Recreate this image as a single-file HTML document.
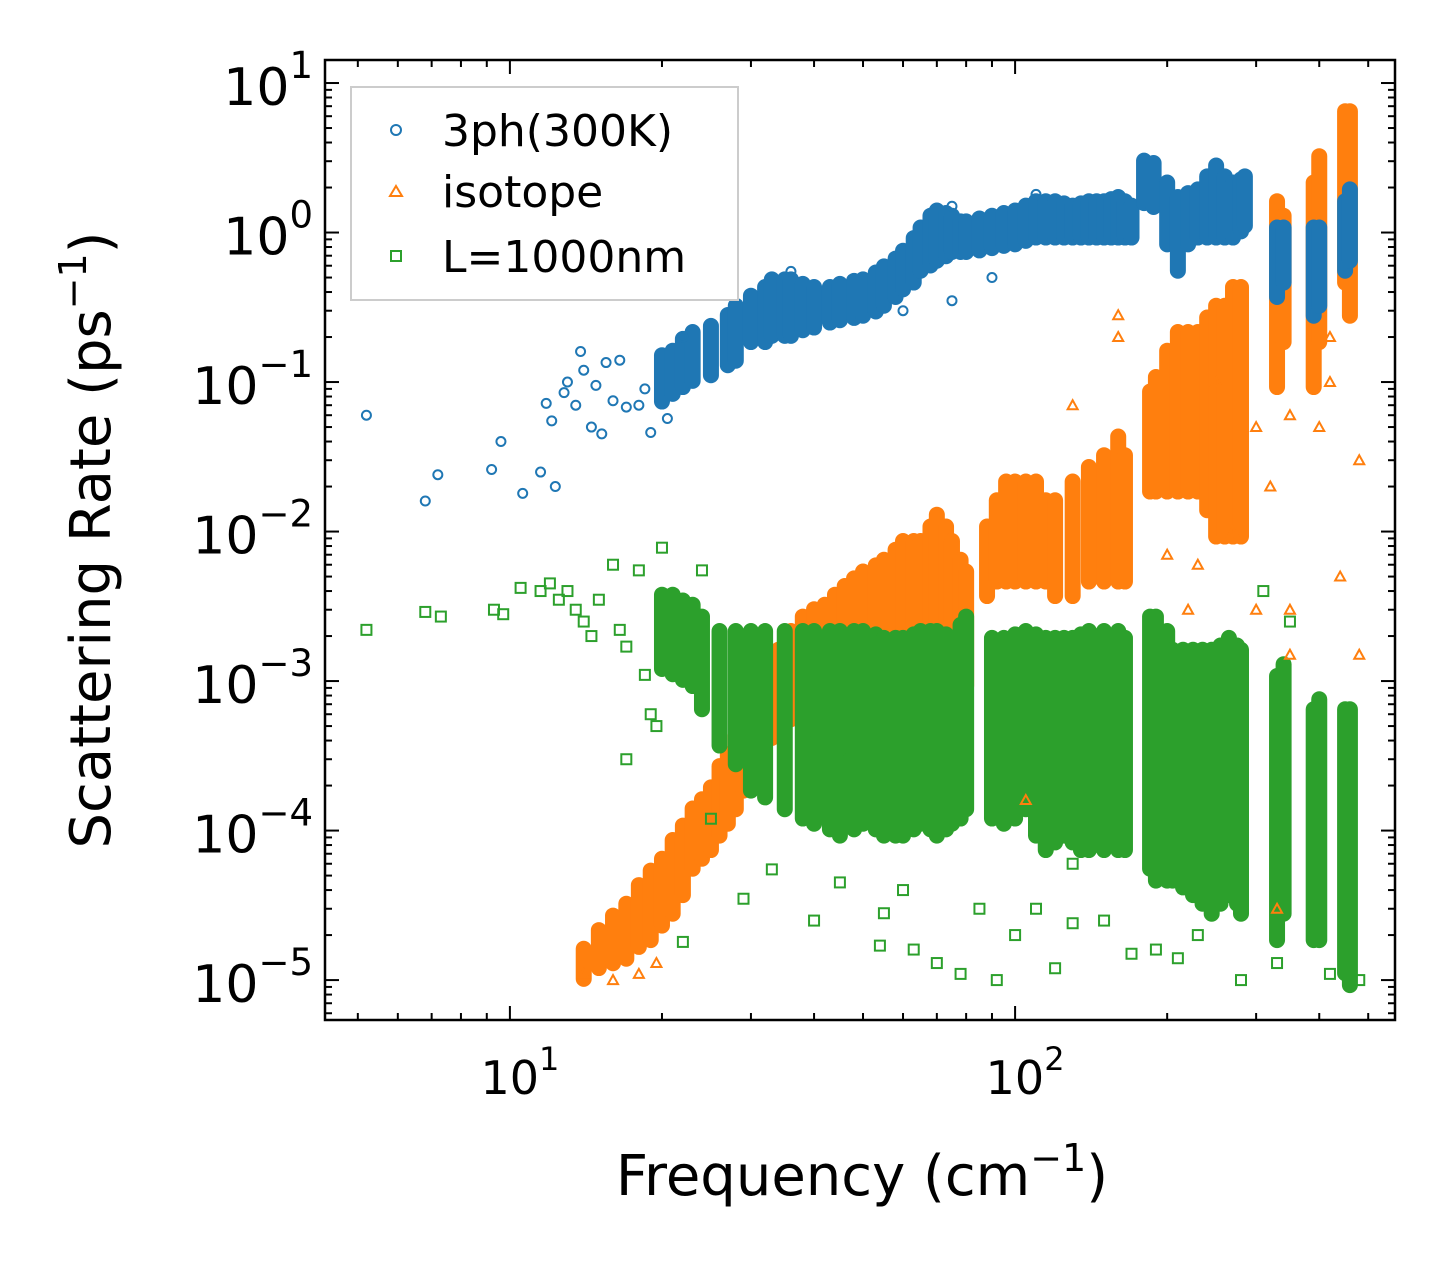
<!DOCTYPE html>
<html><head><meta charset="utf-8"><style>
html,body{margin:0;padding:0;background:#fff}
svg{display:block;font-family:"DejaVu Sans","Liberation Sans",sans-serif}
</style></head><body>
<svg id="chart" width="1455" height="1268" viewBox="0 0 1455 1268" xmlns="http://www.w3.org/2000/svg">
<g id="bands"></g>
<g id="points"></g>
<g id="axes"></g>
<text x="862" y="1195" font-size="56" text-anchor="middle">Frequency (cm<tspan font-size="38" dy="-24">−1</tspan><tspan dy="24">)</tspan></text>
<text transform="translate(110,540) rotate(-90)" font-size="56" text-anchor="middle">Scattering Rate (ps<tspan font-size="38" dy="-24">−1</tspan><tspan dy="24">)</tspan></text>
<g>
<rect x="351" y="87" width="387" height="213" fill="#fff" stroke="#ccc" stroke-width="2"/>
<g><circle cx="396" cy="130" r="5" fill="none" stroke="#1f77b4" stroke-width="2"/><text x="442" y="146" font-size="44">3ph(300K)</text></g>
<g><polygon points="396,186 402,196 390,196" fill="none" stroke="#ff7f0e" stroke-width="2"/><text x="442" y="207" font-size="44">isotope</text></g>
<g><rect x="391" y="251" width="10" height="10" fill="none" stroke="#2ca02c" stroke-width="2"/><text x="442" y="272" font-size="44">L=1000nm</text></g>
</g>
</svg>
<script>
// ---- data ----
const blueBandFreq=[20,21,22,23,25,27,28,30,32,33,35,36,38,40,43,45,48,50,53,55,58,60,63,65,68,70,73,75,78,80,85,90,95,100,105,110,115,120,125,130,135,140,145,150,155,160,165,170,180,188,200,210,220,230,240,250,260,270,280,285,330,340,390,400,450,460];
const blueBandLo=[0.08,0.09,0.1,0.11,0.12,0.14,0.15,0.2,0.2,0.22,0.22,0.22,0.24,0.25,0.27,0.28,0.29,0.3,0.32,0.35,0.4,0.45,0.5,0.6,0.65,0.7,0.75,0.8,0.8,0.8,0.82,0.85,0.88,0.9,0.95,1.0,1.0,1.0,1.0,1.0,1.0,1.0,1.0,1.0,1.0,1.0,1.0,1.0,1.7,1.6,0.9,0.6,0.9,1.0,1.0,1.0,1.0,1.0,1.1,1.2,0.4,0.5,0.3,0.35,0.6,0.7];
const blueBandHi=[0.14,0.15,0.18,0.2,0.22,0.26,0.3,0.35,0.4,0.45,0.45,0.45,0.42,0.4,0.4,0.42,0.44,0.45,0.5,0.55,0.62,0.7,0.85,1.0,1.2,1.3,1.25,1.2,1.1,1.1,1.15,1.2,1.25,1.3,1.4,1.5,1.5,1.5,1.45,1.4,1.45,1.5,1.5,1.5,1.55,1.6,1.5,1.4,2.8,2.7,2.0,1.6,1.7,1.8,2.2,2.6,2.2,2.0,2.1,2.2,1.0,1.0,1.0,1.0,1.5,1.8];
const blueFreq=[5.2,6.8,7.2,9.2,9.6,10.6,11.5,11.8,12.1,12.3,12.8,13,13.5,13.8,14,14.5,14.8,15.2,15.5,16,16.5,17,18,18.5,19,20.5,22,36,60,75,75,90,110];
const blueRate=[0.06,0.016,0.024,0.026,0.04,0.018,0.025,0.072,0.055,0.02,0.085,0.1,0.07,0.16,0.12,0.05,0.095,0.045,0.135,0.075,0.14,0.068,0.07,0.09,0.046,0.057,0.2,0.55,0.3,0.35,1.5,0.5,1.8];

const orangeBandFreq=[14,15,16,17,18,19,20,21,22,23,24,25,26,27,28,29,30,31,33,34,36,38,40,42,44,46,48,50,53,55,58,60,63,65,68,70,73,75,78,80,88,92,96,100,105,110,115,120,130,140,150,160,165,185,190,200,210,220,230,240,250,260,270,280,330,340,390,400,450,460];
const orangeBandLo=[1.1e-5,1.3e-5,1.4e-5,1.5e-5,1.8e-5,2e-5,2.5e-5,3e-5,4e-5,6e-5,7e-5,8e-5,1e-4,1.2e-4,1.5e-4,2e-4,3e-4,4e-4,4.5e-4,5e-4,6e-4,7e-4,7.5e-4,8e-4,9e-4,1e-3,1.1e-3,1.2e-3,1.3e-3,1.5e-3,1.8e-3,2e-3,2e-3,2e-3,2e-3,2e-3,2e-3,2e-3,1.5e-3,1e-3,4e-3,5e-3,5e-3,5e-3,5e-3,5e-3,5e-3,4e-3,4e-3,5e-3,5e-3,5e-3,5e-3,2e-2,2e-2,2e-2,2e-2,2e-2,2e-2,1.5e-2,1e-2,1e-2,1e-2,1e-2,0.1,0.2,0.1,0.2,0.5,0.3];
const orangeBandHi=[1.5e-5,2e-5,2.5e-5,3e-5,4e-5,5e-5,6e-5,8e-5,1e-4,1.3e-4,1.5e-4,1.8e-4,2.5e-4,3e-4,4e-4,5e-4,8e-4,1e-3,1.3e-3,1.5e-3,2e-3,2.5e-3,2.8e-3,3e-3,3.5e-3,4e-3,4.5e-3,5e-3,5.5e-3,6e-3,7e-3,8e-3,8e-3,8e-3,1e-2,1.2e-2,1e-2,8e-3,6e-3,5e-3,1e-2,1.5e-2,2e-2,2e-2,2e-2,2e-2,1.5e-2,1.5e-2,2e-2,2.5e-2,3e-2,4e-2,3e-2,8e-2,1e-1,1.5e-1,2e-1,2e-1,2e-1,2.5e-1,3e-1,3e-1,4e-1,4e-1,1.5,1.2,2,3,6,6];
const orangeFreq=[14,16,18,19.5,105,160,160,200,220,250,270,300,320,350,350,330,400,420,440,480,480,420,350,130,230,300];
const orangeRate=[1.1e-5,1e-5,1.1e-5,1.3e-5,1.6e-4,0.28,0.2,0.007,0.003,0.1,0.01,0.003,0.02,0.003,0.0015,3e-5,0.05,0.1,0.005,0.03,0.0015,0.2,0.06,0.07,0.006,0.05];

const greenBandFreq=[20,21,22,23,24,26,28,30,32,35,38,40,43,45,48,50,53,55,58,60,63,65,68,70,73,75,78,80,90,95,100,105,110,115,120,125,130,135,140,150,160,165,185,190,200,205,215,225,235,245,255,265,275,280,330,340,390,400,450,460];
const greenBandLo=[1.3e-3,1.2e-3,1.1e-3,1e-3,7e-4,4e-4,3e-4,2e-4,1.8e-4,1.5e-4,1.3e-4,1.2e-4,1.1e-4,1e-4,1.1e-4,1.2e-4,1.1e-4,1e-4,1e-4,1e-4,1.1e-4,1.2e-4,1.1e-4,1e-4,1.1e-4,1.2e-4,1.3e-4,1.5e-4,1.3e-4,1.2e-4,1.3e-4,1.5e-4,1e-4,8e-5,9e-5,1e-4,9e-5,8e-5,8e-5,8e-5,8e-5,8e-5,6e-5,5e-5,5e-5,5e-5,4.5e-5,4e-5,3.5e-5,3e-5,3.5e-5,4e-5,3.5e-5,3e-5,2e-5,3e-5,2e-5,2e-5,1.2e-5,1e-5];
const greenBandHi=[3.5e-3,3.5e-3,3.2e-3,3e-3,2.5e-3,2e-3,2e-3,2e-3,2e-3,2e-3,2e-3,2e-3,2e-3,2e-3,2e-3,2e-3,1.9e-3,1.8e-3,1.8e-3,1.8e-3,1.9e-3,2e-3,2e-3,2e-3,1.9e-3,1.8e-3,2.2e-3,2.5e-3,1.8e-3,1.8e-3,1.9e-3,2e-3,1.9e-3,1.8e-3,1.8e-3,1.8e-3,1.8e-3,1.9e-3,2e-3,2e-3,2e-3,1.8e-3,2.5e-3,2.5e-3,2e-3,1.5e-3,1.5e-3,1.5e-3,1.5e-3,1.5e-3,1.6e-3,1.8e-3,1.6e-3,1.5e-3,1e-3,1.2e-3,6e-4,7e-4,6e-4,6e-4];
const greenFreq=[5.2,6.8,7.3,9.3,9.7,10.5,11.5,12,12.5,13,13.5,14,14.5,15,16,16.5,17,17,18,18.5,19,19.5,20,22,24,25,29,33,40,45,54,55,63,70,78,92,100,120,130,150,190,210,280,330,420,480,40,45,60,85,110,310,350,130,170,230];
const greenRate=[2.2e-3,2.9e-3,2.7e-3,3e-3,2.8e-3,4.2e-3,4e-3,4.5e-3,3.5e-3,4e-3,3e-3,2.5e-3,2e-3,3.5e-3,6e-3,2.2e-3,1.7e-3,3e-4,5.5e-3,1.1e-3,6e-4,5e-4,7.8e-3,1.8e-5,5.5e-3,1.2e-4,3.5e-5,5.5e-5,2.5e-5,4.5e-5,1.7e-5,2.8e-5,1.6e-5,1.3e-5,1.1e-5,1e-5,2e-5,1.2e-5,2.4e-5,2.5e-5,1.6e-5,1.4e-5,1e-5,1.3e-5,1.1e-5,1e-5,4.5e-4,3e-4,4e-5,3e-5,3e-5,4e-3,2.5e-3,6e-5,1.5e-5,2e-5];

const yTickExp=[1,0,-1,-2,-3,-4,-5];
const xTickExp=[1,2];

// ---- scales ----
const L=325,R=1395,T=60,B=1020;
const xMin=0.634,xMax=2.752,yMin=-5.267,yMax=1.154;
function X(v){return L+(Math.log10(v)-xMin)/(xMax-xMin)*(R-L);}
function Y(v){return B-(Math.log10(v)-yMin)/(yMax-yMin)*(B-T);}
const NS="http://www.w3.org/2000/svg";
function mk(tag,parent){const e=document.createElementNS(NS,tag);parent.appendChild(e);return e;}

const bandsG=document.getElementById('bands');
const ptsG=document.getElementById('points');
const axG=document.getElementById('axes');

function drawBands(f,lo,hi,color,name){
  for(let i=0;i<f.length;i++){
    const l=mk('line',bandsG);
    
    
    l.setAttribute('x1',X(f[i]));l.setAttribute('x2',X(f[i]));
    l.setAttribute('y1',Y(lo[i])+5);l.setAttribute('y2',Y(hi[i])-5);
    l.setAttribute('stroke',color);l.setAttribute('stroke-width',16);
    l.setAttribute('stroke-linecap','round');
  }
}
drawBands(orangeBandFreq,orangeBandLo,orangeBandHi,'#ff7f0e','orange-cluster');
drawBands(greenBandFreq,greenBandLo,greenBandHi,'#2ca02c','green-cluster');
drawBands(blueBandFreq,blueBandLo,blueBandHi,'#1f77b4','blue-cluster');

for(let i=0;i<blueFreq.length;i++){
  const c=mk('circle',ptsG);
  
  
  c.setAttribute('cx',X(blueFreq[i]));c.setAttribute('cy',Y(blueRate[i]));
  c.setAttribute('r',4.5);c.setAttribute('fill','none');c.setAttribute('stroke','#1f77b4');c.setAttribute('stroke-width',2);
}
for(let i=0;i<orangeFreq.length;i++){
  const x=X(orangeFreq[i]),y=Y(orangeRate[i]);
  const p=mk('polygon',ptsG);
  
  
  p.setAttribute('points',`${x},${y-5} ${x+5},${y+4} ${x-5},${y+4}`);
  p.setAttribute('fill','none');p.setAttribute('stroke','#ff7f0e');p.setAttribute('stroke-width',2);
}
for(let i=0;i<greenFreq.length;i++){
  const r=mk('rect',ptsG);
  
  
  r.setAttribute('x',X(greenFreq[i])-5);r.setAttribute('y',Y(greenRate[i])-5);
  r.setAttribute('width',10);r.setAttribute('height',10);
  r.setAttribute('fill','none');r.setAttribute('stroke','#2ca02c');r.setAttribute('stroke-width',2);
}

// frame
const fr=mk('rect',axG);


fr.setAttribute('x',L);fr.setAttribute('y',T);fr.setAttribute('width',R-L);fr.setAttribute('height',B-T);
fr.setAttribute('fill','none');fr.setAttribute('stroke','#000');fr.setAttribute('stroke-width',2.5);

function tick(x1,y1,x2,y2){const l=mk('line',axG);l.setAttribute('x1',x1);l.setAttribute('y1',y1);l.setAttribute('x2',x2);l.setAttribute('y2',y2);l.setAttribute('stroke','#000');l.setAttribute('stroke-width',2);}
for(let e=-6;e<=1;e++){
  for(let m=1;m<10;m++){
    const v=m*Math.pow(10,e);const y=Y(v);
    if(y<T-0.5||y>B+0.5)continue;
    const len=m===1?14:7;
    tick(L,y,L+len,y);tick(R,y,R-len,y);
  }
}
for(let e=0;e<=3;e++){
  for(let m=1;m<10;m++){
    const v=m*Math.pow(10,e);const x=X(v);
    if(x<L-0.5||x>R+0.5)continue;
    const len=m===1?14:7;
    tick(x,B,x,B-len);tick(x,T,x,T+len);
  }
}
for(const e of yTickExp){
  const t=mk('text',axG);
  
  
  t.setAttribute('x',313);t.setAttribute('y',Y(Math.pow(10,e))+22);
  t.setAttribute('text-anchor','end');t.setAttribute('font-size',52);
  t.innerHTML='10<tspan font-size="37" dy="-27">'+(e<0?'−'+(-e):e)+'</tspan>';
}
for(const e of xTickExp){
  const t=mk('text',axG);
  
  
  t.setAttribute('x',X(Math.pow(10,e))+10);t.setAttribute('y',1094);
  t.setAttribute('text-anchor','middle');t.setAttribute('font-size',46);
  t.innerHTML='10<tspan font-size="32" dy="-24">'+e+'</tspan>';
}
</script>
</body></html>
